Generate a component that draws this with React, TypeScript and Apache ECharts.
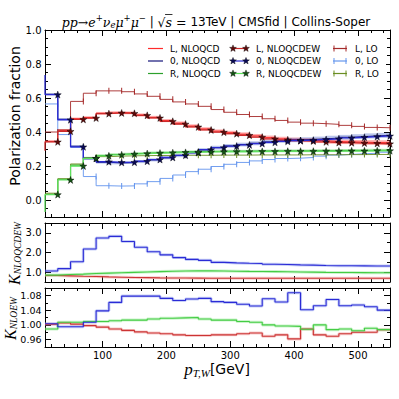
import React, { useEffect, useRef } from "react";
import * as echarts from "echarts";

// ---------- data ----------
const EDGES = [10, 30, 50, 70, 90, 110, 130, 150, 170, 190, 210, 230, 250, 270, 290, 310, 330, 350, 370, 390, 410, 430, 450, 470, 490, 510, 530, 550];
const X_TICKS = [100, 200, 300, 400, 500];
const Y_TOP_TICKS = [0, 0.2, 0.4, 0.6, 0.8, 1.0];
const Y_MID_TICKS = [1, 2, 3];
const Y_BOT_TICKS = [0.96, 1.0, 1.04, 1.08];

const LEGEND_QCD = ["L, NLOQCD", "0, NLOQCD", "R, NLOQCD"];
const LEGEND_EW = ["L, NLOQCDEW", "0, NLOQCDEW", "R, NLOQCDEW"];
const LEGEND_LO = ["L, LO", "0, LO", "R, LO"];

// polarization fractions, one value per bin (bin right edges EDGES[1..])
const POL_L_NLOQCD = [0.345, 0.41, 0.478, 0.485, 0.51, 0.514, 0.512, 0.5, 0.486, 0.467, 0.452, 0.435, 0.418, 0.405, 0.396, 0.387, 0.377, 0.367, 0.36, 0.355, 0.352, 0.348, 0.344, 0.342, 0.34, 0.338, 0.337];
const POL_L_NLOQCD_ERR = [0.006, 0.006, 0.007, 0.008, 0.008, 0.008, 0.008, 0.009, 0.009, 0.009, 0.01, 0.01, 0.01, 0.01, 0.011, 0.011, 0.011, 0.012, 0.012, 0.012, 0.012, 0.013, 0.013, 0.013, 0.013, 0.014, 0.014];
const POL_L_NLOQCDEW = [0.342, 0.404, 0.474, 0.482, 0.508, 0.512, 0.51, 0.498, 0.483, 0.463, 0.447, 0.43, 0.412, 0.399, 0.39, 0.381, 0.37, 0.36, 0.354, 0.349, 0.347, 0.342, 0.338, 0.337, 0.335, 0.333, 0.331];
const POL_L_NLOQCDEW_EDGE = 0.29;
const POL_L_LO = [0.4, 0.412, 0.58, 0.628, 0.642, 0.642, 0.637, 0.624, 0.61, 0.592, 0.577, 0.565, 0.551, 0.532, 0.516, 0.503, 0.491, 0.478, 0.468, 0.458, 0.452, 0.449, 0.445, 0.439, 0.433, 0.427, 0.425];

const POL_0_NLOQCD = [0.622, 0.475, 0.316, 0.243, 0.222, 0.218, 0.22, 0.226, 0.236, 0.248, 0.262, 0.278, 0.295, 0.308, 0.318, 0.326, 0.334, 0.342, 0.348, 0.353, 0.356, 0.36, 0.364, 0.369, 0.373, 0.377, 0.38];
const POL_0_NLOQCD_ERR = [0.006, 0.006, 0.007, 0.008, 0.008, 0.008, 0.008, 0.009, 0.009, 0.009, 0.01, 0.01, 0.01, 0.011, 0.011, 0.011, 0.012, 0.012, 0.012, 0.013, 0.013, 0.013, 0.014, 0.014, 0.014, 0.015, 0.015];
const POL_0_NLOQCDEW = [0.62, 0.472, 0.313, 0.245, 0.225, 0.221, 0.222, 0.228, 0.238, 0.25, 0.263, 0.279, 0.296, 0.308, 0.317, 0.324, 0.332, 0.339, 0.345, 0.35, 0.352, 0.356, 0.36, 0.365, 0.369, 0.373, 0.377];
const POL_0_NLOQCDEW_EDGE = 0.735;
const POL_0_LO = [0.565, 0.385, 0.31, 0.138, 0.084, 0.082, 0.083, 0.095, 0.108, 0.127, 0.147, 0.167, 0.181, 0.197, 0.21, 0.221, 0.23, 0.238, 0.244, 0.246, 0.25, 0.258, 0.264, 0.268, 0.272, 0.275, 0.281];

const POL_R_NLOQCD = [0.034, 0.122, 0.205, 0.248, 0.262, 0.268, 0.272, 0.275, 0.278, 0.28, 0.282, 0.284, 0.285, 0.286, 0.287, 0.287, 0.288, 0.288, 0.289, 0.289, 0.289, 0.29, 0.29, 0.291, 0.291, 0.292, 0.292];
const POL_R_NLOQCD_ERR = [0.004, 0.005, 0.006, 0.006, 0.006, 0.006, 0.006, 0.006, 0.007, 0.007, 0.007, 0.007, 0.007, 0.007, 0.008, 0.008, 0.008, 0.008, 0.008, 0.008, 0.008, 0.008, 0.008, 0.009, 0.009, 0.009, 0.009];
const POL_R_NLOQCDEW = [0.032, 0.118, 0.2, 0.245, 0.26, 0.266, 0.27, 0.273, 0.276, 0.278, 0.28, 0.282, 0.283, 0.284, 0.285, 0.285, 0.286, 0.286, 0.287, 0.287, 0.287, 0.288, 0.288, 0.289, 0.289, 0.29, 0.29];
const POL_R_NLOQCDEW_EDGE = -0.07;
const POL_R_LO = [0.04, 0.125, 0.212, 0.25, 0.255, 0.258, 0.26, 0.261, 0.262, 0.262, 0.263, 0.263, 0.263, 0.264, 0.264, 0.264, 0.265, 0.265, 0.265, 0.265, 0.266, 0.266, 0.266, 0.267, 0.267, 0.268, 0.268];

// K_NLOQCDEW
const K_QCDEW_L = [0.83, 0.81, 0.79, 0.78, 0.76, 0.745, 0.73, 0.72, 0.71, 0.705, 0.7, 0.695, 0.69, 0.69, 0.69, 0.69, 0.69, 0.69, 0.69, 0.69, 0.69, 0.69, 0.69, 0.69, 0.69, 0.69, 0.69];
const K_QCDEW_0 = [1.06, 1.18, 1.53, 2.18, 2.74, 2.82, 2.56, 2.27, 2.04, 1.88, 1.74, 1.65, 1.6, 1.5, 1.47, 1.45, 1.44, 1.4, 1.39, 1.37, 1.36, 1.34, 1.33, 1.33, 1.32, 1.31, 1.31];
const K_QCDEW_R = [0.85, 0.88, 0.9, 0.93, 0.95, 0.97, 0.99, 1.01, 1.03, 1.05, 1.06, 1.065, 1.065, 1.06, 1.05, 1.04, 1.035, 1.03, 1.02, 1.01, 1.0, 0.99, 0.985, 0.98, 0.975, 0.97, 0.97];

// K_NLOEW
const K_EW_L = [1.002, 1.005, 1.002, 0.998, 0.994, 0.989, 0.985, 0.981, 0.978, 0.976, 0.973, 0.971, 0.971, 0.973, 0.973, 0.976, 0.978, 0.969, 0.973, 0.962, 0.989, 0.973, 0.969, 0.976, 0.98, 0.98, 0.987];
const K_EW_0 = [1.003, 0.995, 0.995, 1.007, 1.038, 1.061, 1.078, 1.078, 1.078, 1.072, 1.066, 1.07, 1.072, 1.063, 1.061, 1.056, 1.051, 1.071, 1.062, 1.087, 1.041, 1.052, 1.069, 1.052, 1.054, 1.049, 1.04];
const K_EW_R = [0.989, 1.007, 1.007, 1.009, 1.009, 1.011, 1.013, 1.013, 1.016, 1.018, 1.019, 1.02, 1.016, 1.013, 1.013, 1.009, 1.007, 1.0, 0.997, 0.996, 0.988, 1.0, 0.987, 0.989, 0.984, 0.991, 0.987];

// ---------- styling ----------
const SANS = "'DejaVu Sans', sans-serif";
const SERIF = "'Liberation Serif', 'DejaVu Serif', serif";
const MATH = "'DejaVu Serif', serif";
const STAR = "path://M0,-10L2.351,-3.236L9.511,-3.09L3.804,1.236L5.878,8.09L0,4L-5.878,8.09L-3.804,1.236L-9.511,-3.09L-2.351,-3.236Z";

const SETS = [
  { qcd: POL_L_NLOQCD, err: POL_L_NLOQCD_ERR, ew: POL_L_NLOQCDEW, edge: POL_L_NLOQCDEW_EDGE, lo: POL_L_LO, cQcd: "#ff2b2b", cBand: "rgba(255,70,70,0.45)", cEw: "#cc2a2a", cStar: "#5e0a0a", cLo: "#a52a2a" },
  { qcd: POL_0_NLOQCD, err: POL_0_NLOQCD_ERR, ew: POL_0_NLOQCDEW, edge: POL_0_NLOQCDEW_EDGE, lo: POL_0_LO, cQcd: "#14147a", cBand: "rgba(70,100,200,0.38)", cEw: "#2a2ad0", cStar: "#0a0a55", cLo: "#6495ed" },
  { qcd: POL_R_NLOQCD, err: POL_R_NLOQCD_ERR, ew: POL_R_NLOQCDEW, edge: POL_R_NLOQCDEW_EDGE, lo: POL_R_LO, cQcd: "#2ca02c", cBand: "rgba(70,210,70,0.45)", cEw: "#5ee05e", cStar: "#145214", cLo: "#6b8e23" },
];

const K_SETS = [
  { mid: K_QCDEW_L, bot: K_EW_L, c: "#cc3333", halo: "rgba(235,130,130,0.4)" },
  { mid: K_QCDEW_R, bot: K_EW_R, c: "#44cc44", halo: "rgba(140,230,140,0.45)" },
  { mid: K_QCDEW_0, bot: K_EW_0, c: "#2b2bd6", halo: "rgba(120,140,235,0.4)" },
];

const GRIDS = [
  { left: 45, width: 345, top: 30, height: 187 },
  { left: 45, width: 345, top: 223, height: 59 },
  { left: 45, width: 345, top: 288, height: 59 },
];

function stepData(vals: number[], edgeVal?: number) {
  const d: any[] = [{ value: [EDGES[0], edgeVal !== undefined ? edgeVal : vals[0]], symbol: "none" }];
  vals.forEach((v, i) => d.push([EDGES[i + 1], v]));
  return d;
}

function xMinor() {
  const r: number[] = [];
  for (let v = 20; v <= 540; v += 20) if (v % 100 !== 0) r.push(v);
  return r;
}

function textW(t: string, font: string) {
  const c = document.createElement("canvas").getContext("2d")!;
  c.font = font;
  return c.measureText(t).width;
}

type Piece = { t: string; size: number; fam: string; italic?: boolean; dy?: number; over?: boolean };

function layoutPieces(pieces: Piece[], x0: number, y: number, center: boolean) {
  const widths = pieces.map((p) => textW(p.t, `${p.italic ? "italic " : ""}${p.size}px ${p.fam}`));
  const total = widths.reduce((a, b) => a + b, 0);
  let x = center ? x0 - total / 2 : x0;
  const els: any[] = [];
  pieces.forEach((p, i) => {
    els.push({
      type: "text", x, y: y + (p.dy || 0), z: 20,
      style: { text: p.t, fontSize: p.size, fontFamily: p.fam, fontStyle: p.italic ? "italic" : "normal", fill: "#000", textAlign: "left", textVerticalAlign: "middle", align: "left", verticalAlign: "middle" },
    });
    if (p.over) els.push({ type: "line", z: 20, shape: { x1: x - 0.5, y1: y - 7.5, x2: x + widths[i] + 0.5, y2: y - 7.5 }, style: { stroke: "#000", lineWidth: 0.8 } });
    x += widths[i];
  });
  return els;
}

function starPts(cx: number, cy: number, R: number, r: number) {
  const pts: number[][] = [];
  for (let k = 0; k < 10; k++) {
    const a = -Math.PI / 2 + (k * Math.PI) / 5;
    const rad = k % 2 === 0 ? R : r;
    pts.push([cx + rad * Math.cos(a), cy + rad * Math.sin(a)]);
  }
  return pts;
}

function buildOption() {
  const XMIN = xMinor();
  const yCfg = [
    { min: -0.1, max: 1.0, major: Y_TOP_TICKS, minor: [-0.05, 0.05, 0.1, 0.15, 0.25, 0.3, 0.35, 0.45, 0.5, 0.55, 0.65, 0.7, 0.75, 0.85, 0.9, 0.95], fmt: (v: number) => v.toFixed(1) },
    { min: 0.5, max: 3.5, major: Y_MID_TICKS, minor: [1.5, 2.5], fmt: (v: number) => v.toFixed(1) },
    { min: 0.94, max: 1.1, major: Y_BOT_TICKS, minor: [0.98, 1.02, 1.06], fmt: (v: number) => v.toFixed(2) },
  ];
  const line = { color: "#000", width: 1 };
  const xAxis: any[] = [];
  const yAxis: any[] = [];
  GRIDS.forEach((_, g) => {
    const cx = { type: "value", gridIndex: g, min: 10, max: 550, splitLine: { show: false } };
    const lab = { color: "#000", fontSize: 10, fontFamily: SANS, margin: 3 };
    xAxis.push(
      { ...cx, position: "bottom", axisLine: { show: true, onZero: false, lineStyle: line }, axisTick: { show: true, inside: true, length: 6, customValues: X_TICKS, lineStyle: line }, axisLabel: { show: g === 2, customValues: X_TICKS, ...lab } },
      { ...cx, position: "bottom", axisLine: { show: false, onZero: false }, axisTick: { show: true, inside: true, length: 3, customValues: XMIN, lineStyle: line }, axisLabel: { show: false } },
      { ...cx, position: "top", axisLine: { show: true, onZero: false, lineStyle: line }, axisTick: { show: true, inside: true, length: 6, customValues: X_TICKS, lineStyle: line }, axisLabel: { show: false } },
      { ...cx, position: "top", axisLine: { show: false, onZero: false }, axisTick: { show: true, inside: true, length: 3, customValues: XMIN, lineStyle: line }, axisLabel: { show: false } }
    );
    const c = yCfg[g];
    const cy = { type: "value", gridIndex: g, min: c.min, max: c.max, splitLine: { show: false } };
    yAxis.push(
      { ...cy, position: "left", axisLine: { show: true, onZero: false, lineStyle: line }, axisTick: { show: true, inside: true, length: 6, customValues: c.major, lineStyle: line }, axisLabel: { show: true, customValues: c.major, formatter: c.fmt, color: "#000", fontSize: g === 2 ? 9.5 : 10, fontFamily: SANS, margin: 3.5 } },
      { ...cy, position: "left", axisLine: { show: false, onZero: false }, axisTick: { show: true, inside: true, length: 3, customValues: c.minor, lineStyle: line }, axisLabel: { show: false } },
      { ...cy, position: "right", axisLine: { show: true, onZero: false, lineStyle: line }, axisTick: { show: true, inside: true, length: 6, customValues: c.major, lineStyle: line }, axisLabel: { show: false } },
      { ...cy, position: "right", axisLine: { show: false, onZero: false }, axisTick: { show: true, inside: true, length: 3, customValues: c.minor, lineStyle: line }, axisLabel: { show: false } }
    );
  });

  const series: any[] = [];
  SETS.forEach((s) => {
    const bandData = s.qcd.map((v, i) => [EDGES[i], EDGES[i + 1], v - s.err[i], v + s.err[i]]);
    series.push({
      type: "custom", xAxisIndex: 0, yAxisIndex: 0, z: 1, silent: true,
      encode: { x: [0, 1], y: [2, 3] },
      data: bandData,
      renderItem: (params: any, api: any) => {
        const p0 = api.coord([api.value(0), api.value(3)]);
        const p1 = api.coord([api.value(1), api.value(2)]);
        return { type: "rect", shape: { x: p0[0], y: p0[1], width: p1[0] - p0[0] + 0.3, height: p1[1] - p0[1] }, style: { fill: s.cBand } };
      },
    });
    series.push({ type: "line", xAxisIndex: 0, yAxisIndex: 0, z: 2, step: "start", data: stepData(s.qcd), symbol: "none", lineStyle: { color: s.cQcd, width: 1 } });
    series.push({ type: "line", xAxisIndex: 0, yAxisIndex: 0, z: 2, step: "start", data: stepData(s.lo), symbol: "rect", symbolSize: [1, 6], itemStyle: { color: s.cLo }, lineStyle: { color: s.cLo, width: 1, opacity: 0.9 } });
  });
  SETS.forEach((s) => {
    series.push({ type: "line", xAxisIndex: 0, yAxisIndex: 0, z: 3, step: "start", data: stepData(s.ew, s.edge), symbol: STAR, symbolSize: 7, itemStyle: { color: s.cStar, borderColor: "#000", borderWidth: 0.4 }, lineStyle: { color: s.cEw, width: 1.3 } });
  });
  K_SETS.forEach((k) => {
    series.push({ type: "line", xAxisIndex: 4, yAxisIndex: 4, z: 1, step: "start", data: stepData(k.mid), symbol: "none", lineStyle: { color: k.halo, width: 3 } });
    series.push({ type: "line", xAxisIndex: 4, yAxisIndex: 4, z: 2, step: "start", data: stepData(k.mid), symbol: "none", lineStyle: { color: k.c, width: 1.1 } });
    series.push({ type: "line", xAxisIndex: 8, yAxisIndex: 8, z: 1, step: "start", data: stepData(k.bot), symbol: "none", lineStyle: { color: k.halo, width: 3 } });
    series.push({ type: "line", xAxisIndex: 8, yAxisIndex: 8, z: 2, step: "start", data: stepData(k.bot), symbol: "none", lineStyle: { color: k.c, width: 1.1 } });
  });

  // ----- graphics: legend, title, axis names -----
  const g: any[] = [];
  const rows = [48.5, 61, 73.5];
  SETS.forEach((s, r) => {
    const y = rows[r];
    g.push({ type: "rect", z: 15, shape: { x: 146, y: y - 5, width: 240, height: 10 }, style: { fill: "#fff" } });
  });
  SETS.forEach((s, r) => {
    const y = rows[r];
    const txt = (t: string, x: number) => ({ type: "text", z: 20, x, y, style: { text: t, fontSize: 9, fontFamily: SANS, fill: "#000", textAlign: "left", textVerticalAlign: "middle", align: "left", verticalAlign: "middle" } });
    g.push({ type: "line", z: 20, shape: { x1: 148, y1: y, x2: 163, y2: y }, style: { stroke: s.cQcd, lineWidth: 1.2 } });
    g.push(txt(LEGEND_QCD[r], 170));
    g.push({ type: "line", z: 20, shape: { x1: 233, y1: y, x2: 246, y2: y }, style: { stroke: s.cEw, lineWidth: 1.2 } });
    g.push({ type: "polygon", z: 21, shape: { points: starPts(233, y, 3.6, 1.5) }, style: { fill: s.cStar, stroke: "#000", lineWidth: 0.4 } });
    g.push({ type: "polygon", z: 21, shape: { points: starPts(246, y, 3.6, 1.5) }, style: { fill: s.cStar, stroke: "#000", lineWidth: 0.4 } });
    g.push(txt(LEGEND_EW[r], 256));
    g.push({ type: "line", z: 20, shape: { x1: 333, y1: y, x2: 347, y2: y }, style: { stroke: s.cLo, lineWidth: 1.2 } });
    g.push({ type: "line", z: 20, shape: { x1: 334, y1: y - 3, x2: 334, y2: y + 3 }, style: { stroke: s.cLo, lineWidth: 1 } });
    g.push({ type: "line", z: 20, shape: { x1: 346, y1: y - 3, x2: 346, y2: y + 3 }, style: { stroke: s.cLo, lineWidth: 1 } });
    g.push(txt(LEGEND_LO[r], 355));
  });

  const T = 12;
  const M = 12.5;
  g.push(
    ...layoutPieces(
      [
        { t: "pp", size: M, fam: MATH, italic: true },
        { t: "→", size: M, fam: MATH },
        { t: "e", size: M, fam: MATH, italic: true },
        { t: "+", size: 8.5, fam: MATH, dy: -4 },
        { t: "ν", size: M, fam: MATH, italic: true },
        { t: "e", size: 8.5, fam: MATH, italic: true, dy: 3 },
        { t: "μ", size: M, fam: MATH, italic: true },
        { t: "+", size: 8.5, fam: MATH, dy: -4 },
        { t: "μ", size: M, fam: MATH, italic: true },
        { t: "−", size: 8.5, fam: MATH, dy: -4 },
        { t: " | ", size: T, fam: SANS },
        { t: "√", size: M, fam: MATH },
        { t: "s", size: M, fam: MATH, italic: true, over: true },
        { t: " = ", size: M, fam: MATH },
        { t: "13TeV | CMSfid | Collins-Soper", size: T, fam: SANS },
      ],
      216, 22, true
    )
  );

  g.push(
    ...layoutPieces(
      [
        { t: "p", size: 17, fam: SERIF, italic: true },
        { t: "T,W", size: 11, fam: SERIF, italic: true, dy: 4 },
        { t: "[GeV]", size: 14, fam: SANS },
      ],
      217, 369, true
    )
  );

  g.push({
    type: "group", x: 15, y: 116, rotation: Math.PI / 2,
    children: [{ type: "text", x: 0, y: 0, z: 20, style: { text: "Polarization fraction", fontSize: 14, fontFamily: SANS, fill: "#000", textAlign: "center", textVerticalAlign: "middle", align: "center", verticalAlign: "middle" } }],
  });
  g.push({
    type: "group", x: 14, y: 285, rotation: Math.PI / 2,
    children: layoutPieces([{ t: "K", size: 16, fam: SERIF, italic: true }, { t: "NLOQCDEW", size: 9.5, fam: SERIF, italic: true, dy: 4 }], 0, 0, false),
  });
  g.push({
    type: "group", x: 10.5, y: 340, rotation: Math.PI / 2,
    children: layoutPieces([{ t: "K", size: 16, fam: SERIF, italic: true }, { t: "NLOEW", size: 9.5, fam: SERIF, italic: true, dy: 3.5 }], 0, 0, false),
  });

  return {
    animation: false,
    backgroundColor: "#fff",
    grid: GRIDS,
    xAxis,
    yAxis,
    series,
    graphic: g,
  };
}

export default function App() {
  const ref = useRef<HTMLDivElement>(null);
  useEffect(() => {
    const chart = echarts.init(ref.current!, null, { renderer: "svg" });
    chart.setOption(buildOption() as any);
    return () => chart.dispose();
  }, []);
  return <div ref={ref} style={{ width: 399, height: 399, position: "absolute", left: 0, top: 0 }} />;
}
